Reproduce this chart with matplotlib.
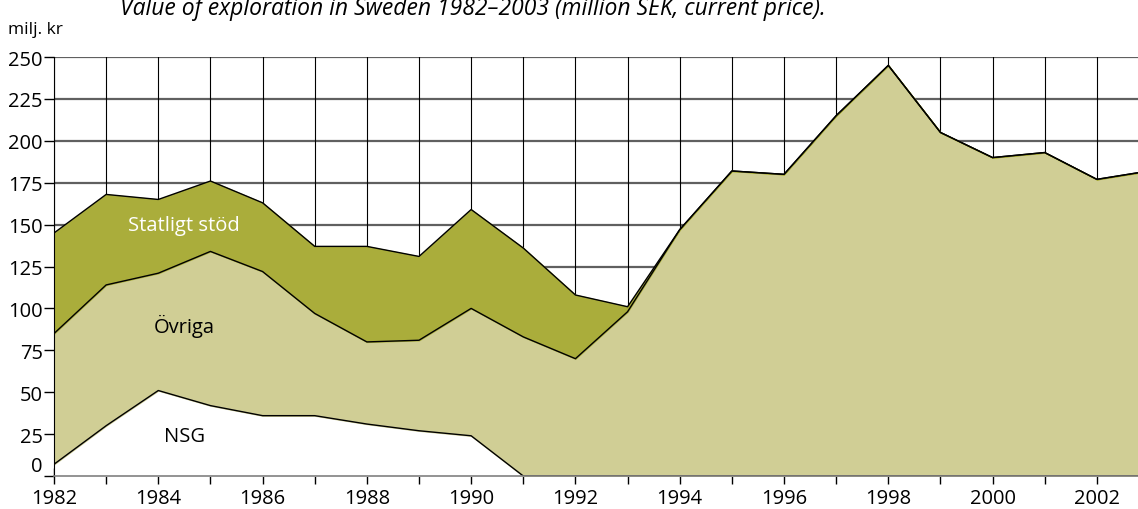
import matplotlib
matplotlib.use('Agg')
import matplotlib.pyplot as plt
import numpy as np

plt.rcParams['font.family'] = ['Open Sans', 'DejaVu Sans']

years = list(range(1982, 2004))
nsg = [7, 30, 51, 42, 36, 36, 31, 27, 24, 0, 0, 0, 0, 0, 0, 0, 0, 0, 0, 0, 0, 0]
ovriga = [78, 84, 70, 92, 86, 61, 49, 54, 76, 83, 70, 98, 147, 182, 180, 215, 245, 205, 190, 193, 177, 182]
statligt = [60, 54, 44, 42, 41, 40, 57, 50, 59, 53, 38, 3, 0, 0, 0, 0, 0, 0, 0, 0, 0, 0]
yticks = [0, 25, 50, 75, 100, 125, 150, 175, 200, 225, 250]
xlabels = [1982, 1984, 1986, 1988, 1990, 1992, 1994, 1996, 1998, 2000, 2002]

fig = plt.figure(figsize=(11.38, 5.10), dpi=100)
ax = fig.add_axes([54/1138, 33/510, 1095/1138, 419/510])

cum1 = np.array(nsg)
cum2 = cum1 + np.array(ovriga)
cum3 = cum2 + np.array(statligt)

ax.fill_between(years, 0, cum1, color='white', zorder=2)
ax.fill_between(years, cum1, cum2, color='#d0ce95', zorder=2)
ax.fill_between(years, cum2, cum3, color='#aaad3b', zorder=2)
for c in (cum1, cum2, cum3):
    ax.plot(years, c, color='black', lw=1.0, zorder=3)

# grid behind the areas
for v in yticks[1:]:
    ax.axhline(v, color='#606060', lw=1.6, zorder=1)
for yr in years:
    ax.axvline(yr, color='black', lw=0.8, zorder=1)

ax.set_xlim(1982, 2003)
ax.set_ylim(0, 250)
ax.set_yticks(yticks)
ax.set_xticks(years, minor=True)
ax.set_xticks(xlabels)
ax.tick_params(axis='y', direction='out', length=7, width=1, labelsize=14.5, pad=1)
ax.tick_params(axis='x', which='both', direction='inout', length=12, width=1, labelsize=14.5, pad=3)
ax.tick_params(axis='x', which='minor', labelbottom=False)
for lbl in ax.get_yticklabels():
    if lbl.get_text() == '0':
        lbl.set_va('bottom')

for s in ['top', 'right']:
    ax.spines[s].set_visible(False)
ax.spines['left'].set_color('black')
ax.spines['bottom'].set_color('#808080')
ax.spines['bottom'].set_linewidth(1.2)
ax.spines['bottom'].set_zorder(4)

ax.text(1984.5, 150, 'Statligt stöd', color='white', fontsize=14.5, ha='center', va='center', zorder=5)
ax.text(1984.5, 90, 'Övriga', color='black', fontsize=14.5, ha='center', va='center', zorder=5)
ax.text(1984.5, 24, 'NSG', color='black', fontsize=14.5, ha='center', va='center', zorder=5)

fig.text(8/1138, 1 - 30/510, 'milj. kr', fontsize=12.5, ha='left', va='center')
fig.text(120/1138, 1 - 9/510, 'Value of exploration in Sweden 1982–2003 (million SEK, current price).',
         fontsize=16.5, style='italic', ha='left', va='center')

fig.savefig('out.png', dpi=100)
